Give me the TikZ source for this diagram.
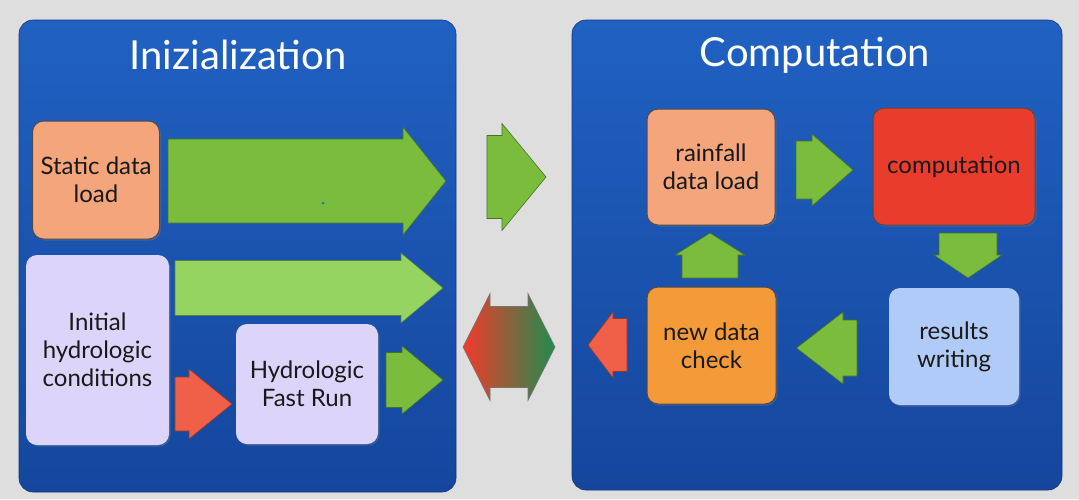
\documentclass[tikz,border=0pt]{standalone}
\usepackage{fontspec}
\setmainfont{Lato}
\usetikzlibrary{shadows}

\definecolor{bggray}{HTML}{DEDEDE}
\definecolor{paneltop}{HTML}{2061C2}
\definecolor{panelbot}{HTML}{15469C}
\definecolor{salmon}{HTML}{F4A57B}
\definecolor{lavender}{HTML}{DDD4FA}
\definecolor{compred}{HTML}{E93C2C}
\definecolor{checkorange}{HTML}{F59A38}
\definecolor{lightblue}{HTML}{B1CBF8}
\definecolor{grassgreen}{HTML}{7ABD3C}
\definecolor{palegreen}{HTML}{96D462}
\definecolor{arrowred}{HTML}{F06048}
\definecolor{flowred}{HTML}{F23A2A}
\definecolor{flowgreen}{HTML}{1F8C4E}

\tikzset{
  panel/.style={rounded corners=14pt, top color=paneltop, bottom color=panelbot,
    draw=panelbot!80!black, line width=0.6pt},
  paneltitle/.style={text=white, font=\fontsize{40}{42}\selectfont},
  box/.style={rounded corners=11pt, align=center, inner sep=0pt, text=black!90,
    font=\fontsize{24}{28}\selectfont,
    drop shadow={opacity=0.35, shadow xshift=1.5pt, shadow yshift=-1.5pt}},
  outlined/.style={draw=black!70, line width=1pt},
  blockarrow/.style={fill=#1, draw=#1!60!black, line width=0.6pt},
}

\begin{document}
\begin{tikzpicture}[x=1pt,y=-1pt]
    % arrow: style, start, angle, length, shaft half width, head half width, head length
    \newcommand{\blockarrow}[7]{%
      \draw[#1, shift={#2}, rotate=#3] (0,{-#5}) -- ({#4-#7},{-#5}) -- ({#4-#7},{-#6})
        -- (#4,0) -- ({#4-#7},#6) -- ({#4-#7},#5) -- (0,#5) -- cycle;}
    \fill[bggray] (0,0) rectangle (1079,499);
    \useasboundingbox (0,0) rectangle (1079,499);

    % the two panels
    \draw[panel] (19,20) rectangle (456,492);
    \draw[panel] (572,20) rectangle (1062,490);
    \node[paneltitle] (inittitle) at (238,55) {Inizialization};
    \node[paneltitle] (comptitle) at (815,55) {Computation};

    % initialization
    \node[box, outlined, fill=salmon, minimum width=127pt, minimum height=118pt] (static) at (96,180) {Static data\\load};
    \node[box, fill=lavender, minimum width=143pt, minimum height=190pt] (initial) at (97.5,350) {Initial\\hydrologic\\conditions};
    \node[box, fill=lavender, minimum width=142pt, minimum height=120pt] (fastrun) at (307,384) {Hydrologic\\Fast Run};
    \blockarrow{blockarrow=grassgreen}{(168,181)}{0}{278}{42}{54}{43}
    \fill[cyan!60!blue] (323,203) circle (1.5);
    \blockarrow{blockarrow=palegreen}{(175,288)}{0}{268}{27.5}{35}{42}
    \blockarrow{blockarrow=arrowred}{(175,404)}{0}{57}{27}{35}{43}
    \blockarrow{blockarrow=grassgreen}{(386,380)}{0}{57}{27.5}{34}{41}

    % between the panels
    \blockarrow{blockarrow=grassgreen}{(487,177)}{0}{59}{41.5}{53.5}{44}
    \path[left color=flowred, right color=flowgreen, draw=black!55, line width=0.6pt]
      (463,347) -- (490,293.5) -- (490,306.5) -- (528,306.5) -- (528,293.5) -- (555,347)
      -- (528,400.5) -- (528,387.5) -- (490,387.5) -- (490,400.5) -- cycle;

    % computation loop
    \node[box, outlined, fill=salmon, minimum width=128pt, minimum height=116pt] (rain) at (711,167) {rainfall\\data load};
    \node[box, outlined, fill=compred, minimum width=162pt, minimum height=117pt] (comp) at (954,166.5) {computation};
    \node[box, fill=lightblue, minimum width=130pt, minimum height=117pt] (results) at (954,346.5) {results\\writing};
    \node[box, outlined, fill=checkorange, minimum width=129pt, minimum height=117pt] (check) at (711.5,345.5) {new data\\check};
    \blockarrow{blockarrow=grassgreen}{(796,170)}{0}{57}{29}{36}{41}
    \blockarrow{blockarrow=grassgreen}{(968,233)}{-90}{45}{29}{34}{23}
    \blockarrow{blockarrow=grassgreen}{(857,348)}{180}{60.5}{28}{36}{46.5}
    \blockarrow{blockarrow=grassgreen}{(710,278)}{90}{45}{28}{35}{22}
    \blockarrow{blockarrow=arrowred}{(627,345)}{180}{39}{26.5}{33}{25}
\end{tikzpicture}
\end{document}
